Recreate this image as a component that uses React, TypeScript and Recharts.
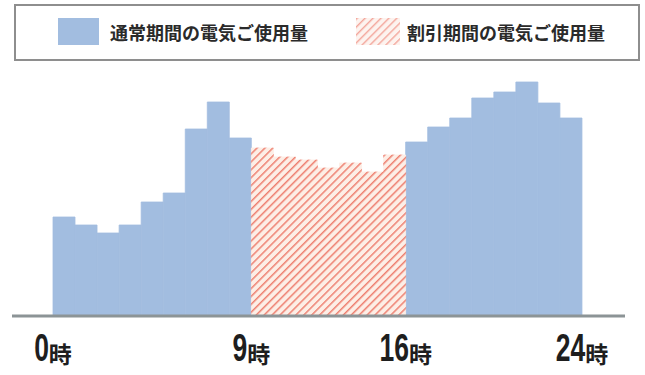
import React from 'react';
import { BarChart, Bar, XAxis, YAxis, Legend } from 'recharts';

const HOURS = [0, 1, 2, 3, 4, 5, 6, 7, 8, 9, 10, 11, 12, 13, 14, 15, 16, 17, 18, 19, 20, 21, 22, 23];
const NORMAL_USAGE = [99, 91, 83, 91, 114, 123, 187, 214, 178, 0, 0, 0, 0, 0, 0, 0, 174, 189, 198, 218, 224, 234, 213, 198];
const DISCOUNT_USAGE = [0, 0, 0, 0, 0, 0, 0, 0, 0, 168, 159, 156, 148, 153, 144, 161, 0, 0, 0, 0, 0, 0, 0, 0];
// tick labels sit on hour boundaries: start of hours 0, 9, 16 and end of hour 23 (= 24時)
const TICK_HOURS = [0, 9, 16, 23];
const TICK_LABELS: Record<number, string> = { 0: '0', 9: '9', 16: '16', 23: '24' };
const TICK_SUFFIX = '時';
const SERIES_NAMES = ['通常期間の電気ご使用量', '割引期間の電気ご使用量'];

const data = HOURS.map((h, i) => ({ hour: h, normal: NORMAL_USAGE[i], discount: DISCOUNT_USAGE[i] }));

const BLUE = '#a2bde0';
const STRIPE = '#ee8070';
const STRIPE_BG = '#fdeee6';

const MARGIN = { top: 70, right: 20, left: 12, bottom: 0 };
const CHART_W = 645;
const CHART_H = 375;
const PAD = { left: 41, right: 43 };
const PLOT_W = CHART_W - MARGIN.left - MARGIN.right;
const BAND = (PLOT_W - PAD.left - PAD.right) / HOURS.length;

const DIGIT_FS = 39;
const DIGIT_SX = 0.68;
const KANJI_FS = 23;

const HourTick = (props: any) => {
  const { x, payload } = props;
  const v = payload.value as number;
  const label = TICK_LABELS[v];
  if (label === undefined) return null;
  const cx = v === 23 ? x + BAND / 2 : x - BAND / 2;
  const digitsW = label.length * DIGIT_FS * 0.556 * DIGIT_SX;
  const total = digitsW + KANJI_FS;
  const start = cx - total / 2;
  return (
    <g>
      <text
        transform={`translate(${start},361) scale(${DIGIT_SX},1)`}
        fontFamily="Liberation Sans, Arial, sans-serif"
        fontWeight="bold"
        fontSize={DIGIT_FS}
        fill="#1e1e1e"
        textAnchor="start"
      >
        {label}
      </text>
      <text
        x={start + digitsW}
        y={363}
        fontFamily="Noto Sans CJK JP, sans-serif"
        fontWeight="bold"
        fontSize={KANJI_FS}
        fill="#1e1e1e"
        textAnchor="start"
      >
        {TICK_SUFFIX}
      </text>
    </g>
  );
};

const LegendBox = () => (
  <svg width={626} height={57} style={{ display: 'block' }}>
    <defs>
      <pattern id="hatchLegend" patternUnits="userSpaceOnUse" width={5.6} height={5.6} patternTransform="rotate(45)">
        <rect width={5.6} height={5.6} fill="#fdf3ef" />
        <line x1={0} y1={0} x2={0} y2={5.6} stroke="#f3a69b" strokeWidth={2.8} />
      </pattern>
    </defs>
    <rect x={1} y={1} width={624} height={55} fill="#fff" stroke="#8e8e8e" strokeWidth={2} />
    <rect x={44} y={14} width={41} height={27} fill={BLUE} />
    <text x={96} y={36} fontFamily="Noto Sans CJK JP, sans-serif" fontWeight="bold" fontSize={18} fill="#2a2a2a">
      {SERIES_NAMES[0]}
    </text>
    <rect x={342} y={14} width={44} height={27} fill="url(#hatchLegend)" />
    <text x={393} y={36} fontFamily="Noto Sans CJK JP, sans-serif" fontWeight="bold" fontSize={18} fill="#2a2a2a">
      {SERIES_NAMES[1]}
    </text>
  </svg>
);

export default function App() {
  return (
    <div style={{ position: 'absolute', left: 0, top: 0, width: CHART_W, height: CHART_H, background: '#fff' }}>
      <BarChart width={CHART_W} height={CHART_H} data={data} margin={MARGIN} barCategoryGap={0} barGap={0}>
        <defs>
          <pattern id="hatch" patternUnits="userSpaceOnUse" width={5.6} height={5.6} patternTransform="rotate(45)">
            <rect width={5.6} height={5.6} fill={STRIPE_BG} />
            <line x1={0} y1={0} x2={0} y2={5.6} stroke={STRIPE} strokeWidth={3} />
          </pattern>
        </defs>
        <XAxis
          dataKey="hour"
          type="category"
          padding={PAD}
          ticks={TICK_HOURS}
          interval={0}
          height={59}
          axisLine={{ stroke: '#8c9496', strokeWidth: 3 }}
          tickLine={false}
          tick={<HourTick />}
        />
        <YAxis hide domain={[0, 246]} />
        <Legend
          layout="horizontal"
          verticalAlign="middle"
          align="center"
          content={() => <LegendBox />}
          wrapperStyle={{ position: 'absolute', left: 14, top: 4, width: 626, height: 57 }}
        />
        <Bar dataKey="normal" name={SERIES_NAMES[0]} stackId="s" fill={BLUE} stroke={BLUE} strokeWidth={0.8} isAnimationActive={false} />
        <Bar dataKey="discount" name={SERIES_NAMES[1]} stackId="s" fill="url(#hatch)" stroke="url(#hatch)" strokeWidth={0.8} isAnimationActive={false} />
      </BarChart>
    </div>
  );
}
